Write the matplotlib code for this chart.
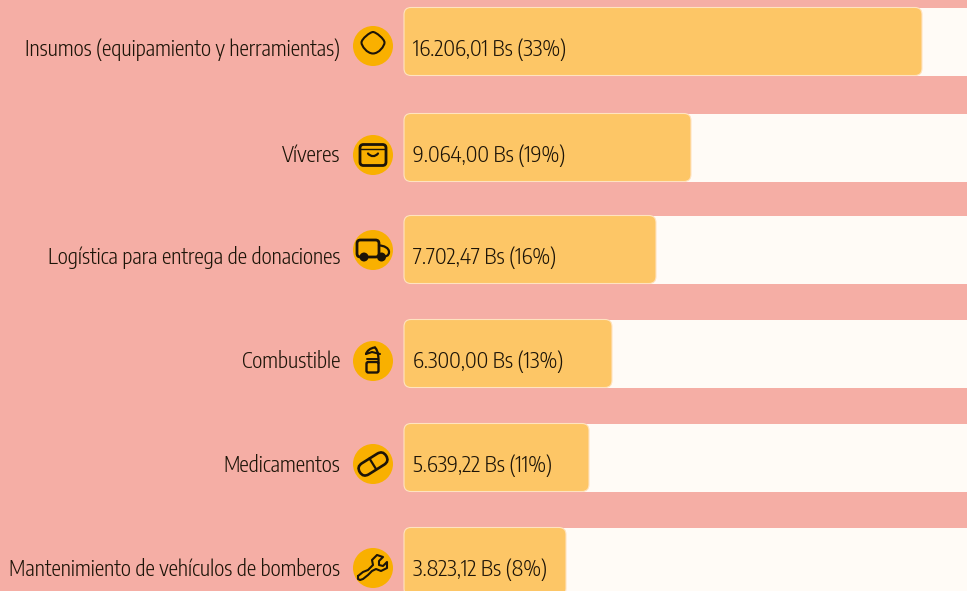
import matplotlib
matplotlib.use("Agg")
import matplotlib.pyplot as plt
from matplotlib import font_manager as fm
from matplotlib.textpath import TextPath
from matplotlib.patches import FancyBboxPatch, Circle, Rectangle, PathPatch
from matplotlib.path import Path
from matplotlib.transforms import Affine2D

categories = ["Insumos (equipamiento y herramientas)", "Víveres",
              "Logística para entrega de donaciones", "Combustible",
              "Medicamentos", "Mantenimiento de vehículos de bomberos"]
value_labels = ["16.206,01 Bs (33%)", "9.064,00 Bs (19%)", "7.702,47 Bs (16%)",
                "6.300,00 Bs (13%)", "5.639,22 Bs (11%)", "3.823,12 Bs (8%)"]
bar_lengths = [518, 287, 252, 208, 185, 162]
row_tops = [7.5, 113.5, 215.5, 319.5, 423.5, 527.5]
icon_rows = [46, 155, 250, 361, 464, 568]
icon_names = ["blob", "bag", "truck", "bottle", "pill", "wrench"]

BG, TRACK, BAR, DOT, INK = "#F5AEA5", "#FFFBF6", "#FDC666", "#F9B000", "#1c1408"
ROW_H, X0, XDOT = 68, 404, 373
TARGET_W, TARGET_H = 152.0, 16.5  # px: width of first value label, digit height


def choose_font():
    """Humanist condensed face whose proportions best match the reference."""
    names = ["Fira Sans Condensed", "Fira Sans Extra Condensed", "PT Sans Narrow",
             "Encode Sans Condensed", "Ubuntu Condensed", "Asap Condensed",
             "Sofia Sans Condensed", "Sofia Sans Extra Condensed", "Roboto Condensed",
             "Archivo Narrow"]
    best, best_err = None, 1e9
    for f in fm.fontManager.ttflist:
        if f.name not in names or f.style != "normal" or f.weight not in (300, 400):
            continue
        fp = fm.FontProperties(fname=f.fname, size=10)
        w = TextPath((0, 0), value_labels[0], prop=fp).get_extents().width
        size = 10 * TARGET_W / w
        h = TextPath((0, 0), "0", prop=fp).get_extents().height * size / 10
        err = abs(h - TARGET_H) + (0.3 if f.weight == 400 else 0)
        if err < best_err:
            best, best_err = (f.fname, size * 72 / 100), err
    if best is None:
        return fm.FontProperties(family="DejaVu Sans", stretch="condensed", size=13)
    return fm.FontProperties(fname=best[0], size=best[1])


FONT = choose_font()
CAT_FONT = FONT.copy()
CAT_FONT.set_size(FONT.get_size_in_points() * 0.975)

fig = plt.figure(figsize=(9.67, 5.91), dpi=100, facecolor=BG)
ax = fig.add_axes([0, 0, 1, 1])
ax.set_xlim(0, 967)
ax.set_ylim(591, 0)
ax.axis("off")


def icon(name, cx, cy):
    tr = Affine2D().translate(cx, cy) + ax.transData
    def rbox(x, y, w, h, r, lw=2.0, fc="none", rot=0):
        t = Affine2D().rotate_deg(rot) + tr
        ax.add_patch(FancyBboxPatch((x + r, y + r), w - 2 * r, h - 2 * r,
                                    boxstyle=f"round,pad={r},rounding_size={r}",
                                    fc=fc, ec=INK, lw=lw, transform=t, zorder=6))
    def stroke(points, lw=1.6, curve=False, fc="none"):
        kind = Path.CURVE4 if curve else Path.LINETO
        p = Path(points, [Path.MOVETO] + [kind] * (len(points) - 1))
        ax.add_patch(PathPatch(p, fc=fc, ec=INK, lw=lw, transform=tr, zorder=6,
                               capstyle="round", joinstyle="round"))
    def dot(x, y, r):
        ax.add_patch(Circle((x, y), r, fc=INK, ec="none", transform=tr, zorder=7))

    if name == "blob":
        stroke([(0, -14), (3, -14), (11.5, -7), (11.5, -3.5),
                (11.5, 0), (6, 7.5), (0, 7.5),
                (-6, 7.5), (-11.5, 0), (-11.5, -3.5),
                (-11.5, -7), (-3, -14), (0, -14)], curve=True, lw=1.5)
    elif name == "bag":
        rbox(-13, -10.5, 26, 21, 3.5, lw=2.0)
        stroke([(-12, -6), (12, -6)], lw=1.0)
        stroke([(-5, -1.5), (-2, 2), (2, 2), (5, -1.5)], curve=True, lw=1.6)
    elif name == "truck":
        rbox(-16, -10, 22, 17, 3.5, lw=2.0)
        stroke([(6, -4.5), (11, -4.5), (16, -2), (16, 2),
                (16, 6), (13, 7), (6, 7)], lw=1.6, curve=True)
        dot(-9, 7, 4.5)
        dot(8.5, 7, 4.5)
    elif name == "bottle":
        rbox(-6.5, 1, 12, 10.5, 1.8, lw=1.7)
        stroke([(-7, -7), (-6, -10), (-3, -13), (2, -13.5)], lw=1.6, curve=True)
        stroke([(-7, -7), (-1, -9), (7, -7)], lw=1.5, curve=False)
        stroke([(2, -13.5), (6, -9), (5.5, -3), (5.5, 2)], lw=1.6, curve=True)
        stroke([(-6, -2), (5, -2)], lw=1.4)
    elif name == "pill":
        rbox(-15.5, -6.5, 31, 13, 6.5, lw=1.9, rot=-32)
        stroke([(-3.5, -5.5), (3, 5)], lw=1.6)
    elif name == "wrench":
        stroke([(-15, 8), (-15, 11), (-13, 12), (-10, 11),
                (-5, 7), (-1, 3), (3, 1),
                (8, 3), (14, 0), (14, -6),
                (10, -2), (6, -3), (6, -7),
                (10, -11), (4, -13), (-1, -8), (0, -3),
                (-5, 2), (-10, 4), (-15, 8)], lw=1.5, curve=False)


for cat, lab, length, top, iy, name in zip(categories, value_labels, bar_lengths,
                                           row_tops, icon_rows, icon_names):
    ax.add_patch(Rectangle((X0 + 10, top), 967 - X0 - 10, ROW_H, fc=TRACK, ec="none", zorder=1))
    r = 7
    ax.add_patch(FancyBboxPatch((X0 + r, top + r), length - 2 * r, ROW_H - 2 * r,
                                boxstyle=f"round,pad={r},rounding_size={r}",
                                fc=BAR, ec="#FFE3C0", lw=0.8, zorder=2))
    ax.text(413, top + 42, lab, ha="left", va="center", color=INK,
            fontproperties=FONT, zorder=5)
    ax.text(340, top + 42, cat, ha="right", va="center", color=INK,
            fontproperties=CAT_FONT, zorder=5)
    ax.add_patch(Circle((XDOT, iy), 20, fc=DOT, ec="none", zorder=4))
    icon(name, XDOT, iy)

fig.savefig("out.png", dpi=100, facecolor=BG)
